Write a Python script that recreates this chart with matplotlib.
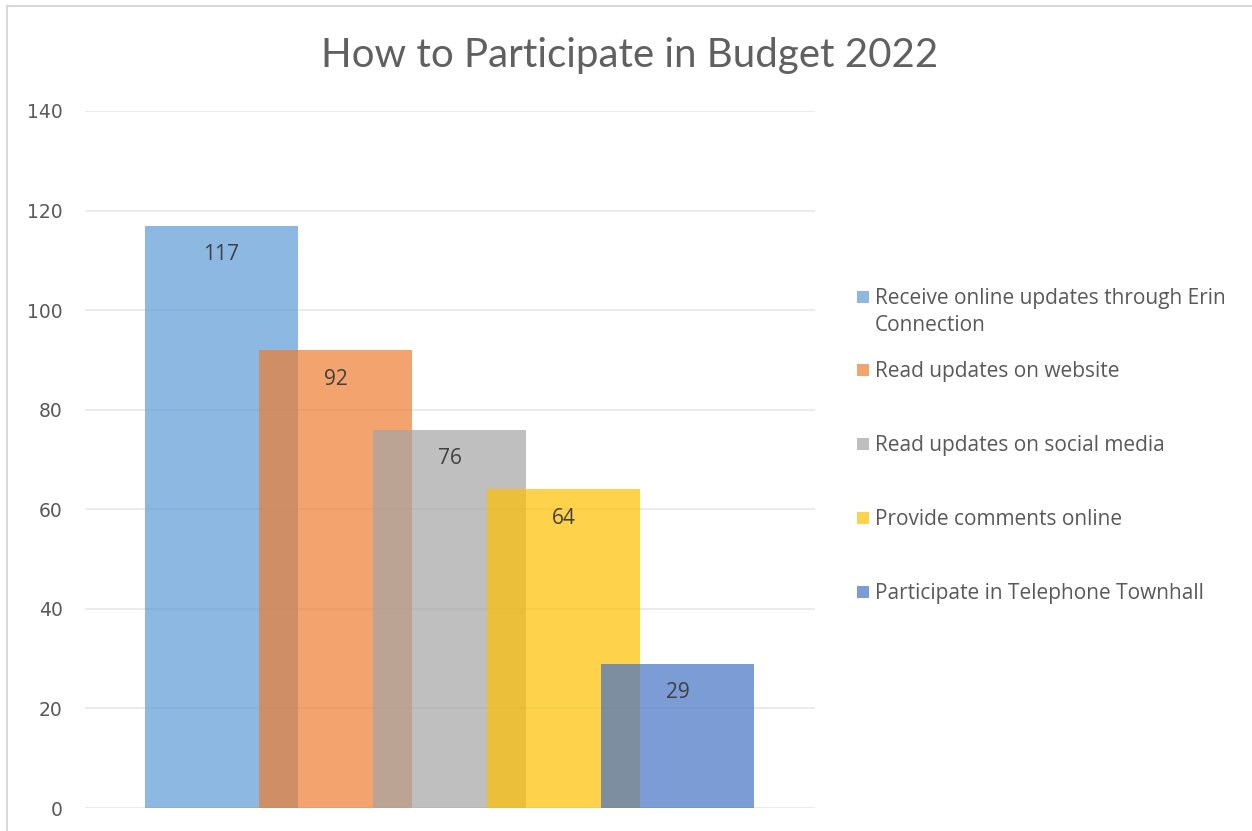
import matplotlib
matplotlib.use("Agg")
import matplotlib.pyplot as plt
from matplotlib.patches import Rectangle
from matplotlib.lines import Line2D

# survey responses
categories = ["Receive online updates through Erin\nConnection",
              "Read updates on website",
              "Read updates on social media",
              "Provide comments online",
              "Participate in Telephone Townhall"]
counts = [117, 92, 76, 64, 29]
colors = ["#5B9BD5", "#ED7D31", "#A5A5A5", "#FFC000", "#4472C4"]
yticks = [0, 20, 40, 60, 80, 100, 120, 140]

W, H = 1252, 831
fig = plt.figure(figsize=(W / 100, H / 100), dpi=100)
fig.patch.set_facecolor("white")

ax = fig.add_axes([85 / W, 1 - 808 / H, (815 - 85) / W, (808 - 111) / H])
ax.set_ylim(0, 140)
ax.set_xlim(-1.197, 5.206)

bars = ax.bar(range(len(counts)), counts, width=1.34, color=colors,
              alpha=0.7, linewidth=0, zorder=3)

for rect, v in zip(bars, counts):
    ax.annotate(str(v), (rect.get_x() + rect.get_width() / 2, v),
                xytext=(0, -21), textcoords="offset points",
                ha="center", va="center", fontsize=15, color="#404040",
                family="Open Sans", zorder=5)

ax.set_yticks(yticks)
ax.set_xticks([])
ax.yaxis.grid(True, color="#E8E8E8", linewidth=1.2, zorder=0)
ax.tick_params(axis="y", length=0, pad=16, labelsize=13.5, labelcolor="#595959")
for lbl in ax.get_yticklabels():
    lbl.set_family("DejaVu Sans")
for s in ax.spines.values():
    s.set_visible(False)

fig.text(630 / W, 1 - 56 / H, "How to Participate in Budget 2022",
         ha="center", va="center", fontsize=29, color="#606060",
         family="Lato")

# legend, drawn by hand so the swatch lines up with the first text line
leg_y = [297, 370, 444, 518, 592]
for c, lab, y in zip(colors, categories, leg_y):
    fig.patches.append(Rectangle((857 / W, 1 - (y + 6) / H), 12 / W, 12 / H,
                                 transform=fig.transFigure, facecolor=c,
                                 alpha=0.7, linewidth=0))
    fig.text(875 / W, 1 - (y - 9) / H, lab, ha="left", va="top",
             fontsize=15, color="#595959", family="Open Sans",
             linespacing=1.4)

# chart area border (left and top)
fig.lines.append(Line2D([7 / W, 7 / W], [0, 1 - 6 / H], transform=fig.transFigure,
                        color="#D9D9D9", linewidth=1.5))
fig.lines.append(Line2D([7 / W, 1], [1 - 6 / H, 1 - 6 / H], transform=fig.transFigure,
                        color="#D9D9D9", linewidth=1.5))

fig.savefig("out.png", dpi=100)
